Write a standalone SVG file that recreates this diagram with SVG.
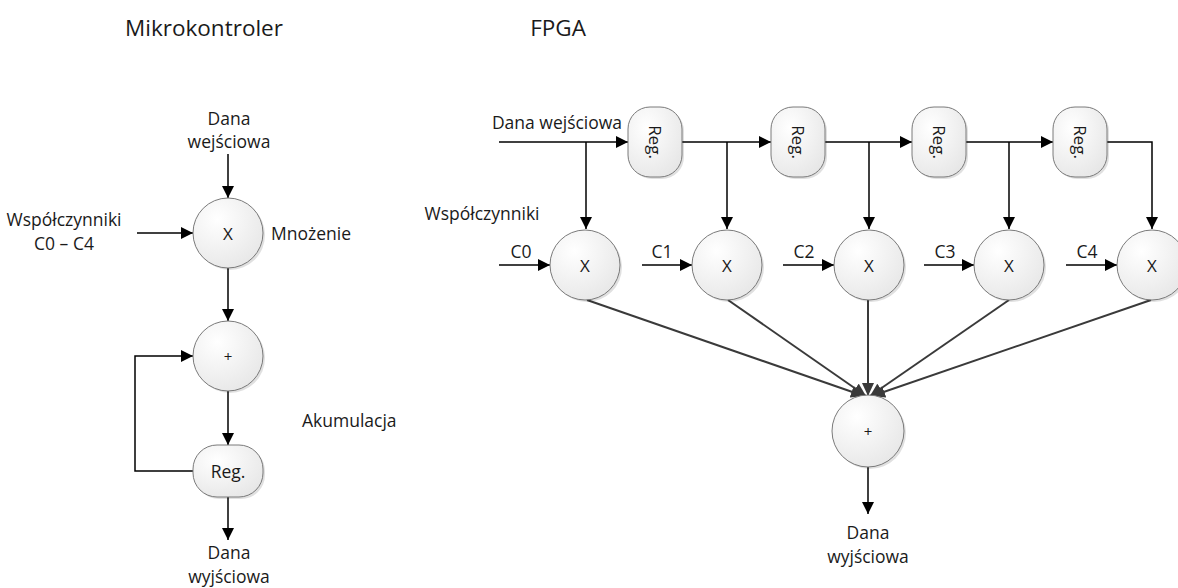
<svg xmlns="http://www.w3.org/2000/svg" width="1178" height="588" viewBox="0 0 1178 588">
<style>
text{font-family:"Open Sans","Liberation Sans",sans-serif;fill:#1a1a1a;}
.t{font-size:17.5px;}
.title{font-size:22.5px;}
.op{font-size:17px;}
.rg{font-size:17px;}
.plus{font-size:15px;}
.node{fill:url(#g);stroke:#7a7a7a;stroke-width:1;}
.sh{fill:#000;opacity:0.12;}
.c{fill:none;stroke:#000;stroke-width:1.5;}
.f{fill:none;stroke:#3a3a3a;stroke-width:2;}
</style>
<defs>
<radialGradient id="g" cx="0.35" cy="0.3" r="0.8">
<stop offset="0" stop-color="#ffffff"/>
<stop offset="1" stop-color="#e6e6e6"/>
</radialGradient>
<marker id="a" markerUnits="userSpaceOnUse" markerWidth="12" markerHeight="12" refX="12" refY="6" orient="auto">
<path d="M0,0 L12,6 L0,12 z" fill="#000"/>
</marker>
<marker id="ag" markerUnits="userSpaceOnUse" markerWidth="14" markerHeight="12" refX="13" refY="6" orient="auto">
<path d="M0,0 L13,6 L0,12 z" fill="#3a3a3a"/>
</marker>
</defs>
<rect width="1178" height="588" fill="#fff"/>

<g id="titles">
<text class="title" x="204" y="36" text-anchor="middle">Mikrokontroler</text>
<text class="title" x="558" y="36" text-anchor="middle">FPGA</text>
</g>

<g id="connectors">
<line class="c" x1="228" y1="154" x2="228" y2="198" marker-end="url(#a)"/>
<line class="c" x1="137" y1="233" x2="193" y2="233" marker-end="url(#a)"/>
<line class="c" x1="228" y1="268" x2="228" y2="321" marker-end="url(#a)"/>
<line class="c" x1="228" y1="391" x2="228" y2="445" marker-end="url(#a)"/>
<polyline class="c" points="193,471 135,471 135,356 193,356" marker-end="url(#a)"/>
<line class="c" x1="228" y1="497" x2="228" y2="540" marker-end="url(#a)"/>
<line class="c" x1="499" y1="142" x2="628" y2="142" marker-end="url(#a)"/>
<line class="c" x1="682" y1="142" x2="771" y2="142" marker-end="url(#a)"/>
<line class="c" x1="823" y1="142" x2="912" y2="142" marker-end="url(#a)"/>
<line class="c" x1="966" y1="142" x2="1053" y2="142" marker-end="url(#a)"/>
<polyline class="c" points="1107,142 1152,142 1152,229" marker-end="url(#a)"/>
<line class="c" x1="586" y1="142" x2="586" y2="229" marker-end="url(#a)"/>
<line class="c" x1="727" y1="142" x2="727" y2="229" marker-end="url(#a)"/>
<line class="c" x1="869" y1="142" x2="869" y2="229" marker-end="url(#a)"/>
<line class="c" x1="1009" y1="142" x2="1009" y2="229" marker-end="url(#a)"/>
<line class="c" x1="499" y1="265" x2="550" y2="265" marker-end="url(#a)"/>
<line class="c" x1="642" y1="265" x2="692" y2="265" marker-end="url(#a)"/>
<line class="c" x1="783" y1="265" x2="834" y2="265" marker-end="url(#a)"/>
<line class="c" x1="924" y1="265" x2="974" y2="265" marker-end="url(#a)"/>
<line class="c" x1="1066" y1="265" x2="1117" y2="265" marker-end="url(#a)"/>
<line class="f" x1="587" y1="300" x2="864" y2="396" marker-end="url(#ag)"/>
<line class="f" x1="728" y1="300" x2="866" y2="396" marker-end="url(#ag)"/>
<line class="f" x1="868" y1="300" x2="868" y2="396" marker-end="url(#ag)"/>
<line class="f" x1="1009" y1="300" x2="870" y2="396" marker-end="url(#ag)"/>
<line class="f" x1="1151" y1="300" x2="872" y2="396" marker-end="url(#ag)"/>
<line class="c" x1="868" y1="467" x2="868" y2="514" marker-end="url(#a)"/>
</g>

<g id="left-mul">
<circle class="sh" cx="230" cy="235" r="35"/>
<circle class="node" cx="228" cy="233" r="35"/>
<text class="op" x="228" y="233" text-anchor="middle" dominant-baseline="central">X</text>
</g>
<g id="left-add">
<circle class="sh" cx="230" cy="358" r="35"/>
<circle class="node" cx="228" cy="356" r="35"/>
<text class="plus" x="228" y="356" text-anchor="middle" dominant-baseline="central">+</text>
</g>
<g id="left-reg">
<rect class="sh" x="195" y="447" width="70" height="52" rx="24"/>
<rect class="node" x="193" y="445" width="70" height="52" rx="24"/>
<text class="t" x="228" y="471" text-anchor="middle" dominant-baseline="central">Reg.</text>
</g>

<g id="left-labels">
<text class="t" x="229" y="118" text-anchor="middle" dominant-baseline="central">Dana</text>
<text class="t" x="229" y="141" text-anchor="middle" dominant-baseline="central">wejściowa</text>
<text class="t" x="64" y="219" text-anchor="middle" dominant-baseline="central">Współczynniki</text>
<text class="t" x="64" y="243" text-anchor="middle" dominant-baseline="central">C0 – C4</text>
<text class="t" x="271" y="233" dominant-baseline="central">Mnożenie</text>
<text class="t" x="302" y="420" dominant-baseline="central">Akumulacja</text>
<text class="t" x="229" y="552" text-anchor="middle" dominant-baseline="central">Dana</text>
<text class="t" x="229" y="576" text-anchor="middle" dominant-baseline="central">wyjściowa</text>
</g>

<g id="reg1">
<rect class="sh" x="630" y="109" width="54" height="70" rx="22"/>
<rect class="node" x="628" y="107" width="54" height="70" rx="22"/>
<text class="rg" x="655" y="142" text-anchor="middle" dominant-baseline="central" transform="rotate(90 655 142)">Reg.</text>
</g>
<g id="reg2">
<rect class="sh" x="773" y="109" width="54" height="70" rx="22"/>
<rect class="node" x="771" y="107" width="54" height="70" rx="22"/>
<text class="rg" x="798" y="142" text-anchor="middle" dominant-baseline="central" transform="rotate(90 798 142)">Reg.</text>
</g>
<g id="reg3">
<rect class="sh" x="914" y="109" width="54" height="70" rx="22"/>
<rect class="node" x="912" y="107" width="54" height="70" rx="22"/>
<text class="rg" x="939" y="142" text-anchor="middle" dominant-baseline="central" transform="rotate(90 939 142)">Reg.</text>
</g>
<g id="reg4">
<rect class="sh" x="1055" y="109" width="54" height="70" rx="22"/>
<rect class="node" x="1053" y="107" width="54" height="70" rx="22"/>
<text class="rg" x="1080" y="142" text-anchor="middle" dominant-baseline="central" transform="rotate(90 1080 142)">Reg.</text>
</g>

<g id="mul0">
<circle class="sh" cx="587" cy="267" r="35"/>
<circle class="node" cx="585" cy="265" r="35"/>
<text class="op" x="585" y="265" text-anchor="middle" dominant-baseline="central">X</text>
</g>
<g id="mul1">
<circle class="sh" cx="729" cy="267" r="35"/>
<circle class="node" cx="727" cy="265" r="35"/>
<text class="op" x="727" y="265" text-anchor="middle" dominant-baseline="central">X</text>
</g>
<g id="mul2">
<circle class="sh" cx="871" cy="267" r="35"/>
<circle class="node" cx="869" cy="265" r="35"/>
<text class="op" x="869" y="265" text-anchor="middle" dominant-baseline="central">X</text>
</g>
<g id="mul3">
<circle class="sh" cx="1011" cy="267" r="35"/>
<circle class="node" cx="1009" cy="265" r="35"/>
<text class="op" x="1009" y="265" text-anchor="middle" dominant-baseline="central">X</text>
</g>
<g id="mul4">
<circle class="sh" cx="1154" cy="267" r="35"/>
<circle class="node" cx="1152" cy="265" r="35"/>
<text class="op" x="1152" y="265" text-anchor="middle" dominant-baseline="central">X</text>
</g>
<g id="sum">
<circle class="sh" cx="870" cy="433" r="36"/>
<circle class="node" cx="868" cy="431" r="36"/>
<text class="plus" x="868" y="431" text-anchor="middle" dominant-baseline="central">+</text>
</g>

<g id="right-labels">
<text class="t" x="557" y="122" text-anchor="middle" dominant-baseline="central">Dana wejściowa</text>
<text class="t" x="482" y="213" text-anchor="middle" dominant-baseline="central">Współczynniki</text>
<text class="t" x="521" y="251" text-anchor="middle" dominant-baseline="central">C0</text>
<text class="t" x="662" y="251" text-anchor="middle" dominant-baseline="central">C1</text>
<text class="t" x="804" y="251" text-anchor="middle" dominant-baseline="central">C2</text>
<text class="t" x="945" y="251" text-anchor="middle" dominant-baseline="central">C3</text>
<text class="t" x="1087" y="251" text-anchor="middle" dominant-baseline="central">C4</text>
<text class="t" x="868" y="532" text-anchor="middle" dominant-baseline="central">Dana</text>
<text class="t" x="868" y="556" text-anchor="middle" dominant-baseline="central">wyjściowa</text>
</g>
</svg>
